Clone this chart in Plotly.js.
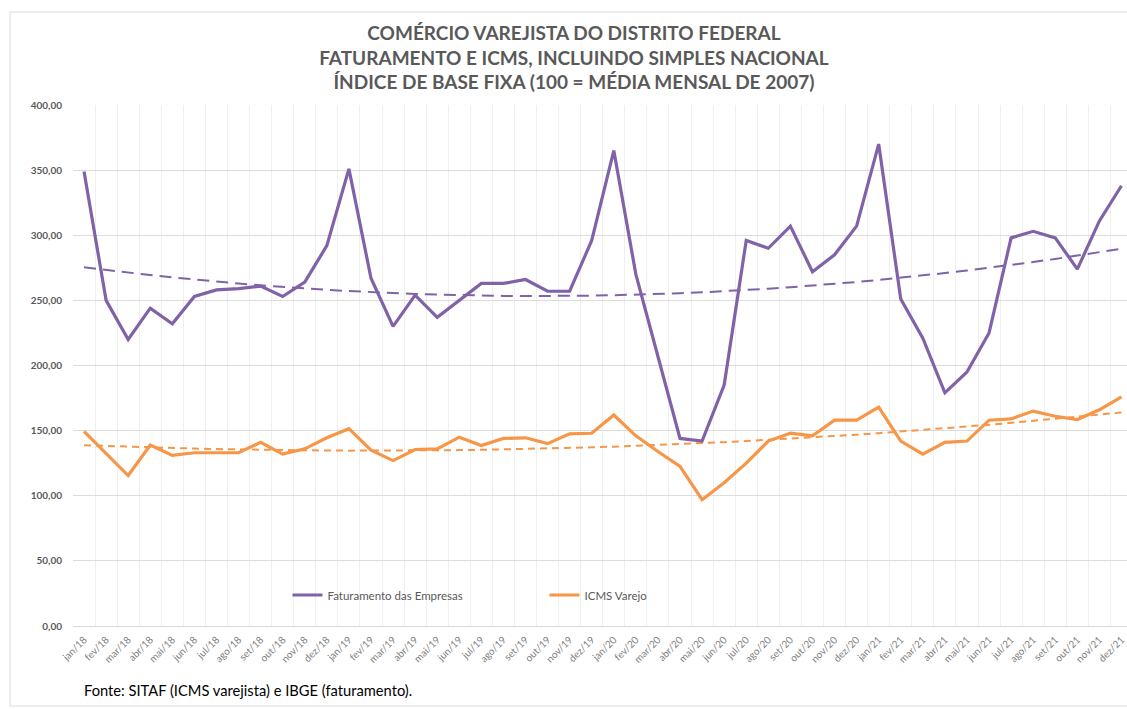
<!DOCTYPE html>
<html>
<head>
<meta charset="utf-8">
<script src="https://cdn.plot.ly/plotly-3.0.1.min.js"></script>
<style>
html,body{margin:0;padding:0;background:#fff;}
#chart{width:1127px;height:709px;}
</style>
</head>
<body>
<div id="chart"></div>
<script>
var categories = [
  "jan/18","fev/18","mar/18","abr/18","mai/18","jun/18","jul/18","ago/18","set/18","out/18","nov/18","dez/18",
  "jan/19","fev/19","mar/19","abr/19","mai/19","jun/19","jul/19","ago/19","set/19","out/19","nov/19","dez/19",
  "jan/20","fev/20","mar/20","abr/20","mai/20","jun/20","jul/20","ago/20","set/20","out/20","nov/20","dez/20",
  "jan/21","fev/21","mar/21","abr/21","mai/21","jun/21","jul/21","ago/21","set/21","out/21","nov/21","dez/21"
];
var faturamento = [
  349, 250, 220, 244, 232, 253, 258, 259, 261, 253, 264, 292,
  351, 267, 230, 254, 237, 250, 263, 263, 266, 257, 257, 296,
  365, 270, 208, 144, 142, 185, 296, 290, 307, 272, 285, 307,
  370, 251, 221, 179, 195, 225, 298, 303, 298, 274, 311, 338
];
var icmsVarejo = [
  149.5, 132.5, 115.5, 139, 131, 133, 133, 133, 141, 132, 136, 144.5,
  151.5, 135, 127, 135.5, 136, 145, 138.5, 144, 144.5, 140, 147.5, 148,
  162, 146, 134, 122.5, 97, 110, 125, 142, 148, 146, 158, 158,
  168, 142, 132, 141, 142, 158, 159, 165, 161, 158.5, 166, 176
];
var seriesNames = ["Faturamento das Empresas", "ICMS Varejo"];
var yTickVals = [0, 50, 100, 150, 200, 250, 300, 350, 400];

// Excel-style order-2 polynomial trendline (least squares on index)
function polyTrend2(ys) {
  var n = ys.length, S = [0,0,0,0,0], T = [0,0,0];
  for (var i = 0; i < n; i++) {
    var p = 1;
    for (var k = 0; k < 5; k++) { S[k] += p; if (k < 3) T[k] += p * ys[i]; p *= i; }
  }
  var A = [[S[0],S[1],S[2],T[0]],[S[1],S[2],S[3],T[1]],[S[2],S[3],S[4],T[2]]];
  for (var c = 0; c < 3; c++) {
    for (var r = c + 1; r < 3; r++) {
      var f = A[r][c] / A[c][c];
      for (var k2 = c; k2 < 4; k2++) A[r][k2] -= f * A[c][k2];
    }
  }
  var x = [0,0,0];
  for (var r2 = 2; r2 >= 0; r2--) {
    var s = A[r2][3];
    for (var k3 = r2 + 1; k3 < 3; k3++) s -= A[r2][k3] * x[k3];
    x[r2] = s / A[r2][r2];
  }
  return ys.map(function(_, i){ return x[0] + x[1]*i + x[2]*i*i; });
}

var purple = "#7F62A8";
var orange = "#F79646";

var traces = [
  {x: categories, y: polyTrend2(faturamento), type: "scatter", mode: "lines", showlegend: false, hoverinfo: "skip",
   line: {color: purple, width: 2, dash: "12px,7px"}},
  {x: categories, y: polyTrend2(icmsVarejo), type: "scatter", mode: "lines", showlegend: false, hoverinfo: "skip",
   line: {color: orange, width: 2, dash: "7px,5px"}},
  {x: categories, y: faturamento, type: "scatter", mode: "lines", name: seriesNames[0],
   line: {color: purple, width: 3.2}},
  {x: categories, y: icmsVarejo, type: "scatter", mode: "lines", name: seriesNames[1],
   line: {color: orange, width: 3.2}}
];

var layout = {
  width: 1127, height: 709,
  margin: {l: 73, r: 0, t: 105, b: 83},
  paper_bgcolor: "#ffffff", plot_bgcolor: "#ffffff",
  separators: ",.",
  font: {family: "Lato, 'Open Sans', sans-serif", color: "#595959"},
  title: {
    text: "COMÉRCIO VAREJISTA DO DISTRITO FEDERAL<br>FATURAMENTO E ICMS, INCLUINDO SIMPLES NACIONAL<br>ÍNDICE DE BASE FIXA (100 = MÉDIA MENSAL DE 2007)",
    font: {family: "Lato, sans-serif", size: 19, color: "#595959", weight: "bold"},
    x: 0.4753, xref: "paper", xanchor: "center",
    y: 1 - 40/709, yref: "container", yanchor: "middle"
  },
  xaxis: {
    type: "category", range: [-0.5, 47.25],
    tickangle: -45, tickfont: {size: 10, color: "#7f7f7f"},
    showgrid: true, gridcolor: "#efefef", gridwidth: 1, tickson: "boundaries",
    ticks: "", showline: true, linecolor: "#d9d9d9", zeroline: false,
    ticklabelstandoff: 3
  },
  yaxis: {
    range: [0, 400], tickvals: yTickVals, tickformat: ".2f",
    tickfont: {size: 10, color: "#595959", weight: "bold"},
    showgrid: true, gridcolor: "#dcdcdc", gridwidth: 1,
    zeroline: false, showline: false, ticks: "", ticklabelstandoff: 10
  },
  showlegend: true,
  legend: {
    orientation: "h", x: 0.2035, xanchor: "left", y: 0.0595, yanchor: "middle",
    font: {size: 11.5, color: "#595959"}, bgcolor: "rgba(0,0,0,0)",
    entrywidth: 212, entrywidthmode: "pixels", traceorder: "normal"
  },
  annotations: [{
    text: "Fonte: SITAF (ICMS varejista) e IBGE (faturamento).",
    xref: "paper", yref: "paper", x: 0.0085, y: -0.1228, xanchor: "left", yanchor: "middle",
    showarrow: false, font: {family: "Lato, sans-serif", size: 14.7, color: "#000000"}
  }],
  shapes: [{
    type: "rect", xref: "paper", yref: "paper", x0: -0.0598, x1: 1.02, y0: -0.1536, y1: 1.1785,
    line: {color: "#d9d9d9", width: 1}, fillcolor: "rgba(0,0,0,0)", layer: "below"
  }]
};

Plotly.newPlot("chart", traces, layout, {displayModeBar: false, staticPlot: true});
</script>
</body>
</html>
